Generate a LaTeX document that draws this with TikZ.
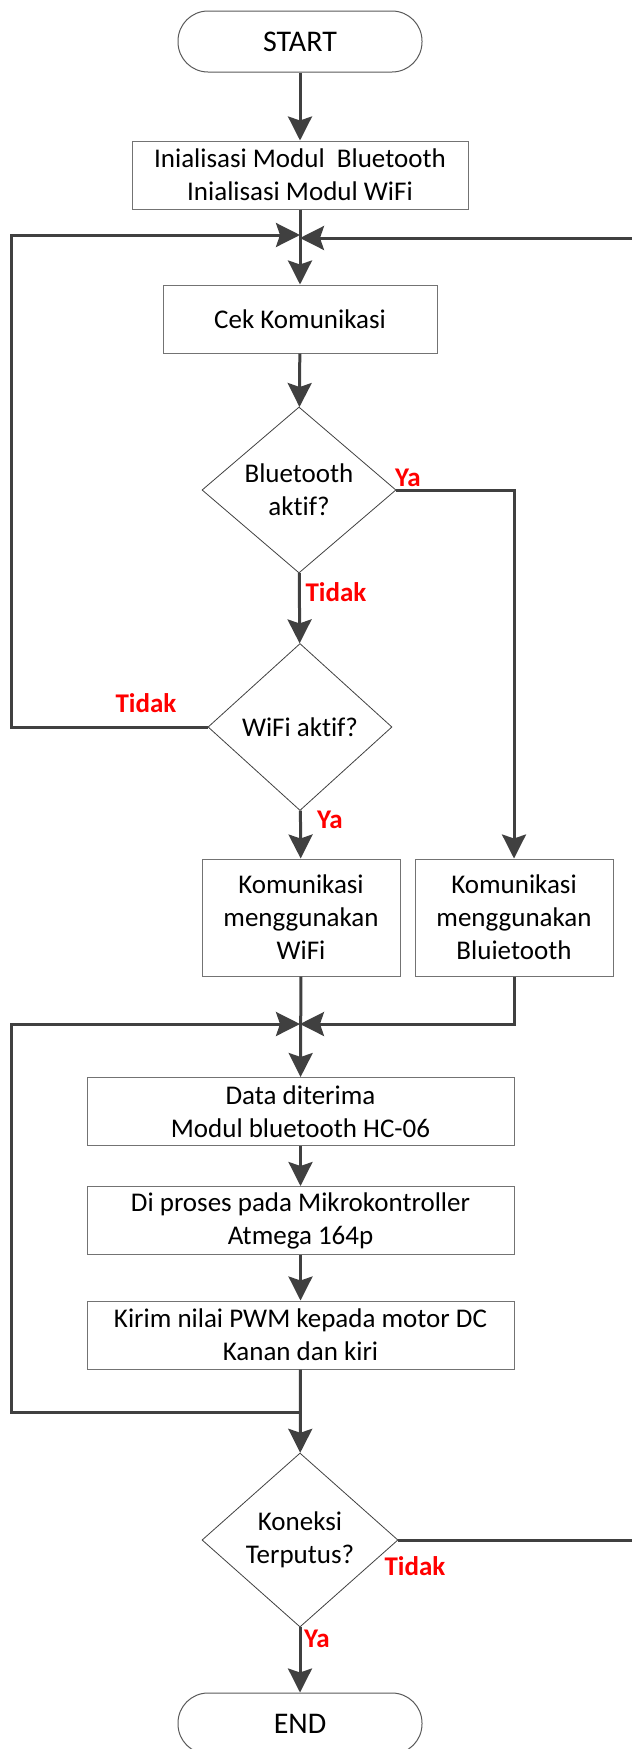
\documentclass[tikz,border=0pt]{standalone}
\usepackage{fontspec}
\setmainfont{Carlito}[Ligatures=NoCommon]
\usetikzlibrary{shapes.geometric,arrows.meta}
\begin{document}
\begin{tikzpicture}[x=1pt,y=-1pt,
  every node/.style={font=\fontsize{27}{33}\selectfont, inner sep=0pt, align=center},
  term/.style={draw=black!65, line width=1pt, rounded corners=30pt, minimum width=244pt, minimum height=61pt, font=\fontsize{30}{36}\selectfont},
  proc/.style={draw=black!55, line width=1pt, minimum height=68pt},
  dec/.style={diamond, aspect=1.17, draw=black!75, line width=0.8pt},
  lbl/.style={text=red, font=\fontsize{27}{33}\selectfont\bfseries},
  conn/.style={draw=black!75, line width=3pt},
  arr/.style={conn, -{Stealth[length=24pt,width=24pt,inset=4pt]}}
]
\useasboundingbox (0,0) rectangle (632,1749);
\clip (0,0) rectangle (632,1749);

% nodes
\node[term] (start) at (300,41.5) {START};
\node[proc, minimum width=336pt] (init) at (300,175) {Inialisasi Modul\ \ Bluetooth\\Inialisasi Modul WiFi};
\node[proc, minimum width=274pt] (cek) at (300,319) {Cek Komunikasi};
\node[dec, minimum width=194pt, minimum height=166pt] (bt) at (299,490) {Bluetooth\\aktif?};
\node[dec, minimum width=184pt, minimum height=167pt] (wf) at (300,727) {WiFi aktif?};
\node[proc, minimum width=198pt, minimum height=117pt] (wfbox) at (301,917.5) {Komunikasi\\menggunakan\\WiFi};
\node[proc, minimum width=198pt, minimum height=117pt] (btbox) at (514,917.5) {Komunikasi\\menggunakan\\Bluietooth};
\node[proc, minimum width=427pt] (data) at (300.5,1111.5) {Data diterima\\Modul bluetooth HC-06};
\node[proc, minimum width=427pt] (pros) at (300.5,1220.5) {Di proses pada Mikrokontroller\\Atmega 164p};
\node[proc, minimum width=427pt] (kirim) at (300.5,1335) {Kirim nilai PWM kepada motor DC\\Kanan dan kiri};
\node[dec, minimum width=196pt, minimum height=174pt] (kx) at (300,1540) {Koneksi\\Terputus?};
\node[term] (end) at (300,1723.5) {END};

% labels
\node[lbl] (l1) at (408,478) {Ya};
\node[lbl] (l2) at (336,592) {Tidak};
\node[lbl] (l3) at (146,703) {Tidak};
\node[lbl] (l4) at (330,820) {Ya};
\node[lbl] (l5) at (415,1566) {Tidak};
\node[lbl] (l6) at (317,1639) {Ya};

% coordinates
\coordinate (m1l) at (300,235);
\coordinate (m1r) at (300,238);
\coordinate (L1) at (11,727);
\coordinate (R1) at (642,1540);
\coordinate (m2) at (300,1024);
\coordinate (j3) at (300,1412);
\coordinate (L3) at (11,1412);

% connectors
\draw[arr] (start) -- (init);
\draw[arr] (init) -- (cek);
\draw[arr] (cek) -- (bt);
\draw[arr] (bt) -- (wf);
\draw[arr] (bt.east) -| (btbox.north);
\draw[arr] (wf) -- (wfbox);
\draw[arr] (wf.west) -- (L1) |- (m1l);
\draw[arr] (kx.east) -- (R1) |- (m1r);
\draw[arr] (wfbox) -- (data);
\draw[arr] (btbox.south) |- (m2);
\draw[arr] (j3) -- (L3) |- (m2);
\draw[arr] (data) -- (pros);
\draw[arr] (pros) -- (kirim);
\draw[arr] (kirim) -- (kx);
\draw[arr] (kx) -- (end);
\end{tikzpicture}
\end{document}
